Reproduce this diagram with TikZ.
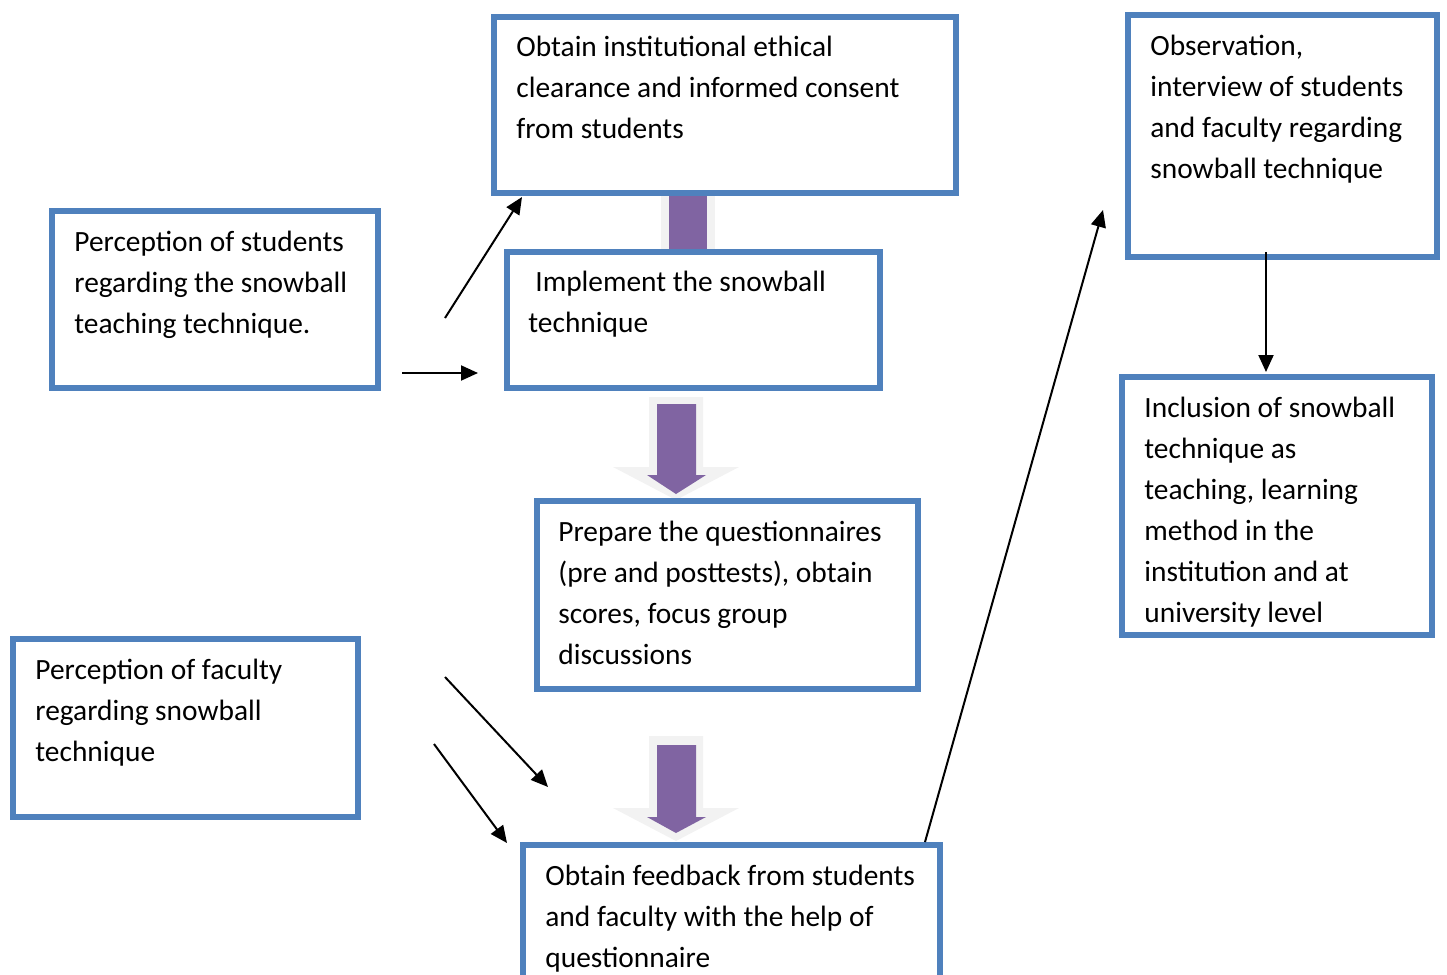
\documentclass[tikz,border=0pt]{standalone}
\usepackage{fontspec}
\setmainfont{Carlito}
\usetikzlibrary{arrows.meta}
\definecolor{boxblue}{HTML}{4F81BD}
\definecolor{blockpurple}{HTML}{8064A2}
\definecolor{glow}{HTML}{F2F2F2}
\tikzset{
  box/.style={draw=boxblue, line width=3pt, fill=white, anchor=north west, inner sep=0pt, outer sep=0pt},
  txt/.style={font=\fontsize{14.7}{20.5}\selectfont, align=left, inner sep=0pt, anchor=base west},
  conn/.style={line width=1pt, -{Triangle[length=8.5pt,width=7.5pt]}},
  blk/.style={fill=blockpurple, draw=none},
  blkglow/.style={fill=glow, draw=none}
}
\begin{document}
\begin{tikzpicture}[x=0.5pt,y=-0.5pt]
\useasboundingbox (0,0) rectangle (1447,975);
\clip (0,0) rectangle (1447,975);
% block arrows (background glow + purple)
\fill[blkglow] (661,193) rectangle (715,252);
\fill[blk] (669,193) rectangle (707,252);
\fill[blkglow] (649,397) -- (703,397) -- (703,467) -- (739,467) -- (676,500) -- (613,467) -- (649,467) -- cycle;
\fill[blk] (657,404) -- (696,404) -- (696,475) -- (706,475) -- (676,494) -- (647,475) -- (657,475) -- cycle;
\fill[blkglow] (649,736) -- (703,736) -- (703,808) -- (739,808) -- (676,841) -- (613,808) -- (649,808) -- cycle;
\fill[blk] (657,745) -- (696,745) -- (696,817) -- (706,817) -- (676,833) -- (647,817) -- (657,817) -- cycle;
% boxes
\node[box, minimum width=231pt, minimum height=88pt] (b1) at (494,17) {};
\node[box, minimum width=186.5pt, minimum height=68pt] (b2) at (507,252) {};
\node[box, minimum width=163pt, minimum height=88.5pt] (b3) at (52,211) {};
\node[box, minimum width=190.5pt, minimum height=94pt] (b4) at (537,501) {};
\node[box, minimum width=172.5pt, minimum height=89pt] (b5) at (13,639) {};
\node[box, minimum width=208.5pt, minimum height=80pt] (b6) at (523,845) {};
\node[box, minimum width=154.5pt, minimum height=121pt] (b7) at (1128,15) {};
\node[box, minimum width=155pt, minimum height=129pt] (b8) at (1122,377) {};
% texts (anchored at the baseline of the last line)
\node[txt] (t1) at (516,138) {Obtain institutional ethical\\clearance and informed consent\\from students};
\node[txt] (t2) at (528,332) {\hspace{3.5pt}Implement the snowball\\technique};
\node[txt] (t3) at (74,333) {Perception of students\\regarding the snowball\\teaching technique.};
\node[txt] (t4) at (558,664) {Prepare the questionnaires\\(pre and posttests), obtain\\scores, focus group\\discussions};
\node[txt] (t5) at (35,761) {Perception of faculty\\regarding snowball\\technique};
\node[txt] (t6) at (545,967) {Obtain feedback from students\\and faculty with the help of\\questionnaire};
\node[txt] (t7) at (1150,178) {Observation,\\interview of students\\and faculty regarding\\snowball technique};
\node[txt] (t8) at (1144,622) {Inclusion of snowball\\technique as\\teaching, learning\\method in the\\institution and at\\university level};
% connector end points
\coordinate (s1) at (445,318);
\coordinate (e1) at (522,197);
\coordinate (s2) at (402,373);
\coordinate (e2) at (478,373);
\coordinate (s3) at (445,677);
\coordinate (e3) at (548,787);
\coordinate (s4) at (434,744);
\coordinate (e4) at (507,843);
\coordinate (s5) at (925,842);
\coordinate (e5) at (1103,210);
\coordinate (s6) at (1266,252);
\coordinate (e6) at (1266,372);
\draw[conn] (s1) -- (e1);
\draw[conn] (s2) -- (e2);
\draw[conn] (s3) -- (e3);
\draw[conn] (s4) -- (e4);
\draw[conn] (s5) -- (e5);
\draw[conn] (s6) -- (e6);
\end{tikzpicture}
\end{document}
